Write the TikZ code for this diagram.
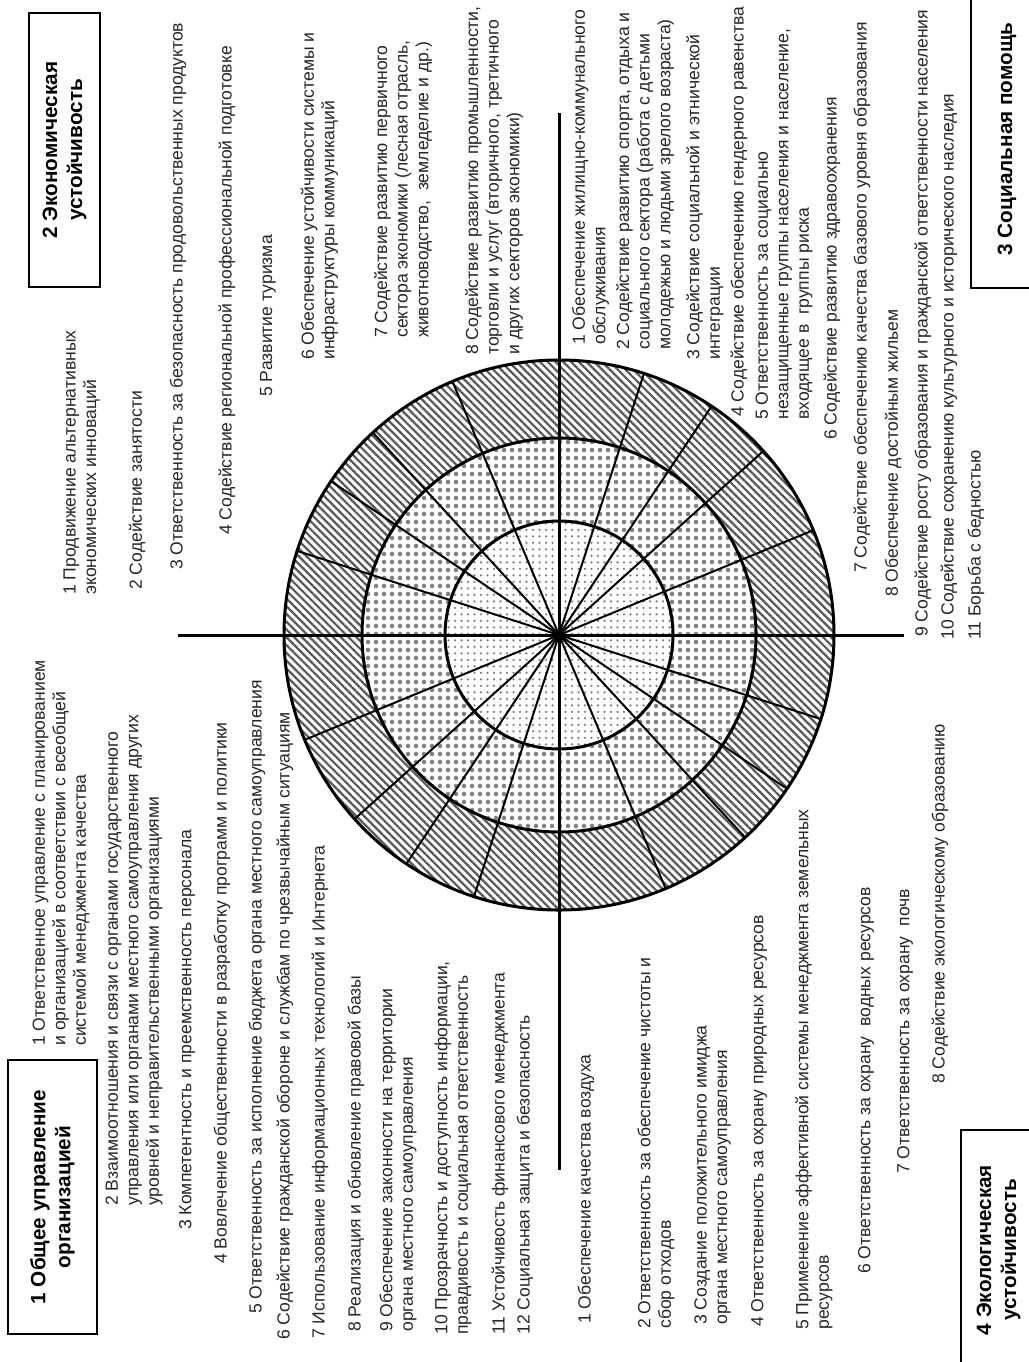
\documentclass[tikz,border=0pt]{standalone}
\usepackage{fontspec}
\setmainfont{Liberation Sans}
\usetikzlibrary{patterns.meta}

\newcommand*{\rout}{55mm}
\newcommand*{\rmid}{39.4mm}
\newcommand*{\rin}{22.8mm}

\begin{document}
\begin{tikzpicture}
[
	x=0.2mm, y=-0.2mm,
	item/.style={rotate=90,anchor=west,inner sep=0pt,align=left,text=black!85,font=\fontsize{10}{11.7}\selectfont},
	titlebox/.style={draw,line width=0.4mm,rotate=90,align=center,inner sep=0pt,font=\fontsize{11.8}{14.2}\selectfont\bfseries},
	ring/.style={line width=0.6mm},
	spoke/.style={line width=0.4mm}
]

	\useasboundingbox[fill=white] (0,0) rectangle (1029,1362);

	\coordinate (c) at (559,635);

	% ring fills
	\path[pattern={Lines[angle=-45,distance=1.1mm,line width=0.45mm]},pattern color=black!65,even odd rule]
		(c) circle[radius=\rout] (c) circle[radius=\rmid];
	\path[pattern={Dots[distance=1.6mm,radius=0.45mm]},pattern color=black!50,even odd rule]
		(c) circle[radius=\rmid] (c) circle[radius=\rin];
	\path[pattern={Dots[distance=1.3mm,radius=0.25mm]},pattern color=black!50]
		(c) circle[radius=\rin];

	% spokes
	\foreach \a in {22.4,42,56.3,72,112.8,132.6,146,162.2}
		\draw[spoke] ([shift={(\a:\rout)}]c) -- ([shift={({\a+180}:\rout)}]c);

	% circles
	\draw[ring] (c) circle[radius=\rout];
	\draw[ring] (c) circle[radius=\rmid];
	\draw[ring] (c) circle[radius=\rin];

	% axes
	\coordinate (left) at (178,635);
	\coordinate (right) at (904,635);
	\coordinate (top) at (559,113);
	\coordinate (bottom) at (559,1170);
	\draw[ring] (left) -- (right);
	\draw[ring] (top) -- (bottom);

	% group boxes
	\node[titlebox,minimum width=54.8mm,minimum height=17.8mm] (org) at (52.5,1197) {1 Общее управление\\организацией};
	\node[titlebox,minimum width=54.8mm,minimum height=14.2mm] (eco) at (64.5,150) {2 Экономическая\\устойчивость};
	\node[titlebox,minimum width=59.4mm,minimum height=14.4mm] (soc) at (1007,139) {3 Социальная помощь};
	\node[titlebox,minimum width=48mm,minimum height=15mm] (env) at (998.5,1250) {4 Экологическая\\устойчивость};

	% group 1
	\node[item] (org1) at (61,1046) {1 Ответственное управление с планированием\\и организацией в соответствии с всеобщей\\системой менеджмента качества};
	\node[item] (org2) at (134,1206) {2 Взаимоотношения и связи с органами государственного\\управления или органами местного самоуправления других\\уровней и неправительственными организациями};
	\node[item] (org3) at (187,1230) {3 Компетентность и преемственность персонала};
	\node[item] (org4) at (222,1264) {4 Вовлечение общественности в разработку программ и политики};
	\node[item] (org5) at (257,1314) {5 Ответственность за исполнение бюджета органа местного самоуправления};
	\node[item] (org6) at (285,1340) {6 Содействие гражданской обороне и службам по чрезвычайным ситуациям};
	\node[item] (org7) at (320,1339) {7 Использование информационных технологий и Интернета};
	\node[item] (org8) at (356,1332) {8 Реализация и обновление правовой базы};
	\node[item] (org9) at (398,1332) {9 Обеспечение законности на территории\\органа местного самоуправления};
	\node[item] (org10) at (453,1335) {10 Прозрачность и доступность информации,\\правдивость и социальная ответственность};
	\node[item] (org11) at (500,1335) {11 Устойчивость финансового менеджмента};
	\node[item] (org12) at (525,1335) {12 Социальная защита и безопасность};

	% group 2
	\node[item] (eco1) at (81.5,595) {1 Продвижение альтернативных\\экономических инноваций};
	\node[item] (eco2) at (137,590) {2 Содействие занятости};
	\node[item] (eco3) at (178,570) {3 Ответственность за безопасность продовольственных продуктов};
	\node[item] (eco4) at (227,535) {4 Содействие региональной профессиональной подготовке};
	\node[item] (eco5) at (268,397) {5 Развитие туризма};
	\node[item] (eco6) at (319.5,360) {6 Обеспечение устойчивости системы и\\инфраструктуры коммуникаций};
	\node[item] (eco7) at (403,338) {7 Содействие развитию первичного\\сектора экономики (лесная отрасль,\\животноводство,\ \ земледелие и др.)};
	\node[item] (eco8) at (494,355) {8 Содействие развитию промышленности,\\торговли и услуг (вторичного, третичного\\и других секторов экономики)};

	% group 3
	\node[item] (soc1) at (590.5,345) {1 Обеспечение жилищно-коммунального\\обслуживания};
	\node[item] (soc2) at (645,350) {2 Содействие развитию спорта, отдыха и\\социального сектора (работа с детьми\\молодежью и людьми зрелого возраста)};
	\node[item] (soc3) at (705,360) {3 Содействие социальной и этнической\\интеграции};
	\node[item] (soc4) at (739,417) {4 Содействие обеспечению гендерного равенства};
	\node[item] (soc5) at (784,420) {5 Ответственность за социально\\незащищенные группы населения и население,\\входящее в\ \ группы риска};
	\node[item] (soc6) at (832,440) {6 Содействие развитию здравоохранения};
	\node[item] (soc7) at (862,573) {7 Содействие обеспечению качества базового уровня образования};
	\node[item] (soc8) at (893,597) {8 Обеспечение достойным жильем};
	\node[item] (soc9) at (923,637) {9 Содействие росту образования и гражданской ответственности населения};
	\node[item] (soc10) at (949,640) {10 Содействие сохранению культурного и исторического наследия};
	\node[item] (soc11) at (976,640) {11 Борьба с бедностью};

	% group 4
	\node[item] (env1) at (586,1324) {1 Обеспечение качества воздуха};
	\node[item] (env2) at (656,1329) {2 Ответственность за обеспечение чистоты и\\сбор отходов};
	\node[item] (env3) at (712.5,1325) {3 Создание положительного имиджа\\органа местного самоуправления};
	\node[item] (env4) at (759,1327) {4 Ответственность за охрану природных ресурсов};
	\node[item] (env5) at (814,1330) {5 Применение эффективной системы менеджмента земельных\\ресурсов};
	\node[item] (env6) at (866,1274) {6 Ответственность за охрану\ \ водных ресурсов};
	\node[item] (env7) at (905,1174) {7 Ответственность за охрану\ \ почв};
	\node[item] (env8) at (940,1084) {8 Содействие экологическому образованию};

\end{tikzpicture}
\end{document}
